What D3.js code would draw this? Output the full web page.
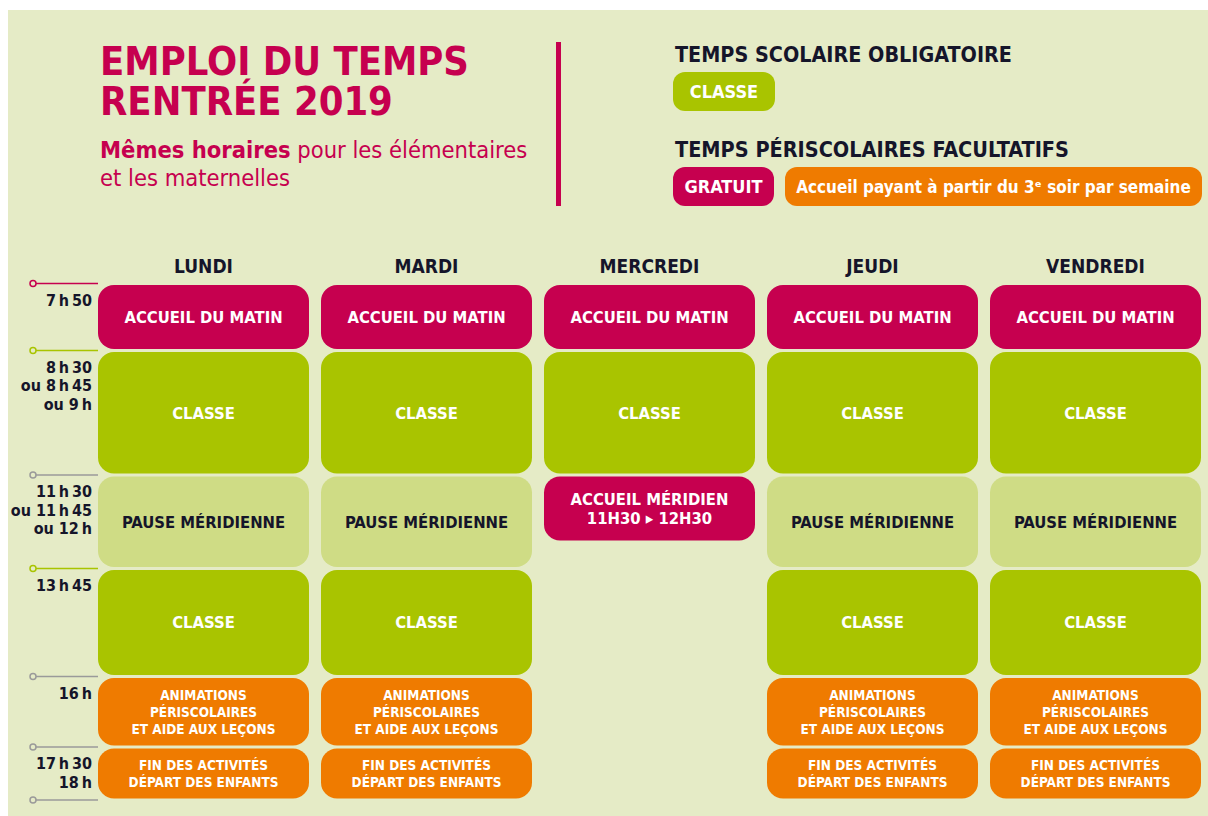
<!DOCTYPE html>
<html><head><meta charset="utf-8">
<script src="https://cdn.jsdelivr.net/npm/d3@7"></script>
<style>
html,body{margin:0;padding:0;background:#fff;}
svg{display:block;}
text{font-family:'Liberation Sans Narrow','DejaVu Sans Condensed','Roboto Condensed','Roboto',sans-serif;}
</style></head>
<body>
<svg id="chart" width="1208" height="816"></svg>
<script>
// ---------------- DATA ----------------
const days = ["LUNDI", "MARDI", "MERCREDI", "JEUDI", "VENDREDI"];

// time boundaries (minutes since midnight) and their labels
const tickTimes  = [470, 510, 690, 825, 960, 1050, 1080];
const tickLabels = [["7\u2009h\u200950"], ["8\u2009h\u200930", "ou 8\u2009h\u200945", "ou 9\u2009h"],
                    ["11\u2009h\u200930", "ou 11\u2009h\u200945", "ou 12\u2009h"],
                    ["13\u2009h\u200945"], ["16\u2009h"], ["17\u2009h\u200930", "18\u2009h"], []];
const tickKinds  = ["gratuit", "classe", "autre", "classe", "autre", "autre", "autre"];

// standard day slots
const slotStarts = [470, 510, 690, 825, 960, 1050];
const slotEnds   = [510, 690, 825, 960, 1050, 1080];
const slotTypes  = ["gratuit", "classe", "pause", "classe", "payant", "payant"];
const slotLabels = [["ACCUEIL DU MATIN"], ["CLASSE"], ["PAUSE MÉRIDIENNE"], ["CLASSE"],
                    ["ANIMATIONS", "PÉRISCOLAIRES", "ET AIDE AUX LEÇONS"],
                    ["FIN DES ACTIVITÉS", "DÉPART DES ENFANTS"]];

// Wednesday: morning only + lunch reception
const wedSlotIdx   = [0, 1];
const wedExtraStart = 690, wedExtraEnd = 750;
const wedExtraType  = "gratuit";
const wedExtraLabel = ["ACCUEIL MÉRIDIEN", "11H30 ▸ 12H30"];

// legend
const legendTitles = ["TEMPS SCOLAIRE OBLIGATOIRE", "TEMPS PÉRISCOLAIRES FACULTATIFS"];
const legendItems  = [["classe", "CLASSE"], ["gratuit", "GRATUIT"], ["payant", "Accueil payant à partir du 3\u1D49 soir par semaine"]];

// titles
const titleLines = ["EMPLOI DU TEMPS", "RENTRÉE 2019"];
const subtitleBold = "Mêmes horaires";
const subtitleRest = " pour les élémentaires";
const subtitleLine2 = "et les maternelles";

// ---------------- STYLE ----------------
const C = {
  bg: "#e5ebc6", crimson: "#c6004f", classe: "#a9c400", pause: "#cfdc85",
  payant: "#ef7b00", grey: "#9a9a9a", dark: "#15152a", white: "#ffffff"
};
const fillOf = {gratuit: C.crimson, classe: C.classe, pause: C.pause, payant: C.payant};
const lineColorOf = {gratuit: C.crimson, classe: C.classe, autre: C.grey};
const legendTitleWidths = [337, 394];

// shrink the font size until the text fits the width
function shrinkTo(sel, w) {
  sel.each(function () {
    const len = this.getComputedTextLength();
    if (len > w) {
      const fs = parseFloat(d3.select(this).attr("font-size"));
      d3.select(this).attr("font-size", (fs * w / len).toFixed(2));
    }
  });
}

// ---------------- DRAW ----------------
const svg = d3.select("#chart");
svg.append("rect").attr("x", 8).attr("y", 10).attr("width", 1200).attr("height", 806).attr("fill", C.bg);

// title block
const title = svg.append("g");
const tt = title.append("text").attr("y", 75)
  .attr("fill", C.crimson).attr("font-size", 39.5).attr("font-weight", 700);
tt.selectAll("tspan").data(titleLines).join("tspan")
  .attr("x", 100).attr("dy", (d, i) => i === 0 ? 0 : 40).text(d => d);
const st = title.append("text").attr("x", 100).attr("y", 158).attr("fill", C.crimson).attr("font-size", 23.5);
st.append("tspan").attr("font-weight", 700).text(subtitleBold);
st.append("tspan").text(subtitleRest);
title.append("text").attr("x", 100).attr("y", 186).attr("fill", C.crimson).attr("font-size", 23.5).text(subtitleLine2);
svg.append("rect").attr("x", 556).attr("y", 42).attr("width", 5).attr("height", 164).attr("fill", C.crimson);

// legend
svg.selectAll("text.lt").data(legendTitles).join("text").attr("class", "lt")
  .attr("x", 675).attr("y", (d, i) => 62 + i * 95)
  .attr("fill", C.dark).attr("font-size", 22).attr("font-weight", 700).text(d => d)
  .each(function (d, i) { shrinkTo(d3.select(this), legendTitleWidths[i]); });
const pillPos = [[673, 72, 102], [673, 167, 101], [785, 167, 417]];
legendItems.forEach(([type, label], i) => {
  const [px, py, pw] = pillPos[i];
  svg.append("rect").attr("x", px).attr("y", py).attr("width", pw).attr("height", 39)
    .attr("rx", 12).attr("fill", fillOf[type]);
  const t = svg.append("text").attr("x", px + pw / 2).attr("y", py + 26).attr("text-anchor", "middle")
    .attr("fill", C.white).attr("font-weight", 700).attr("font-size", 18)
    .text(label);
  shrinkTo(t, pw - 22);
});

// scales
const x = d3.scaleBand().domain(days).range([98, 1201]).paddingInner(12 / 223);
const y = d3.scaleLinear()
  .domain([470, 510, 690, 750, 825, 960, 1050, 1080])
  .range([283.5, 350.5, 475, 542, 568.5, 676.5, 747, 800]);

// day headers
svg.selectAll("text.day").data(days).join("text").attr("class", "day")
  .attr("x", d => x(d) + x.bandwidth() / 2).attr("y", 273).attr("text-anchor", "middle")
  .attr("fill", C.dark).attr("font-size", 19).attr("font-weight", 700).text(d => d);

// time axis
const ticks = tickTimes.map((t, i) => ({t, labels: tickLabels[i], kind: tickKinds[i]}));
const tg = svg.selectAll("g.tick").data(ticks).join("g").attr("class", "tick")
  .attr("transform", d => `translate(0,${y(d.t)})`);
tg.append("line").attr("x1", 36).attr("x2", 98).attr("stroke", d => lineColorOf[d.kind]).attr("stroke-width", 1.5);
tg.append("circle").attr("cx", 33).attr("r", 3).attr("fill", C.bg)
  .attr("stroke", d => lineColorOf[d.kind]).attr("stroke-width", 1.5);
tg.each(function (d) {
  const g = d3.select(this);
  d.labels.forEach((lab, j) => {
    const t = g.append("text").attr("x", 92).attr("y", 22 + j * 18.5).attr("text-anchor", "end")
      .attr("fill", C.dark).attr("font-size", 16).attr("font-weight", 700);
    if (lab.startsWith("ou ")) {
      t.append("tspan").attr("font-weight", 600).text("ou ");
      t.append("tspan").text(lab.slice(3));
    } else t.text(lab);
  });
});

// blocks
const blocks = [];
days.forEach(day => {
  if (day === "MERCREDI") {
    wedSlotIdx.forEach(i => blocks.push({day, start: slotStarts[i], end: slotEnds[i], type: slotTypes[i], label: slotLabels[i]}));
    blocks.push({day, start: wedExtraStart, end: wedExtraEnd, type: wedExtraType, label: wedExtraLabel});
  } else {
    slotStarts.forEach((s, i) => blocks.push({day, start: s, end: slotEnds[i], type: slotTypes[i], label: slotLabels[i]}));
  }
});
const inset = 1.5;
const bg = svg.selectAll("g.block").data(blocks).join("g").attr("class", "block");
bg.append("rect")
  .attr("x", d => x(d.day)).attr("width", x.bandwidth())
  .attr("y", d => y(d.start) + inset).attr("height", d => y(d.end) - y(d.start) - 2 * inset)
  .attr("rx", 16).attr("fill", d => fillOf[d.type]);
bg.each(function (d) {
  const g = d3.select(this);
  const small = d.type === "payant";
  const fs = small ? 13.5 : 16.5;
  const lh = small ? 17 : 19.5;
  const cy = (y(d.start) + y(d.end)) / 2;
  const n = d.label.length;
  d.label.forEach((lab, j) => {
    g.append("text").attr("x", x(d.day) + x.bandwidth() / 2)
      .attr("y", cy + (j - (n - 1) / 2) * lh + fs * 0.36)
      .attr("text-anchor", "middle").attr("font-size", fs).attr("font-weight", 700)
      .attr("fill", d.type === "pause" ? C.dark : C.white).text(lab);
  });
});
</script>
</body></html>
